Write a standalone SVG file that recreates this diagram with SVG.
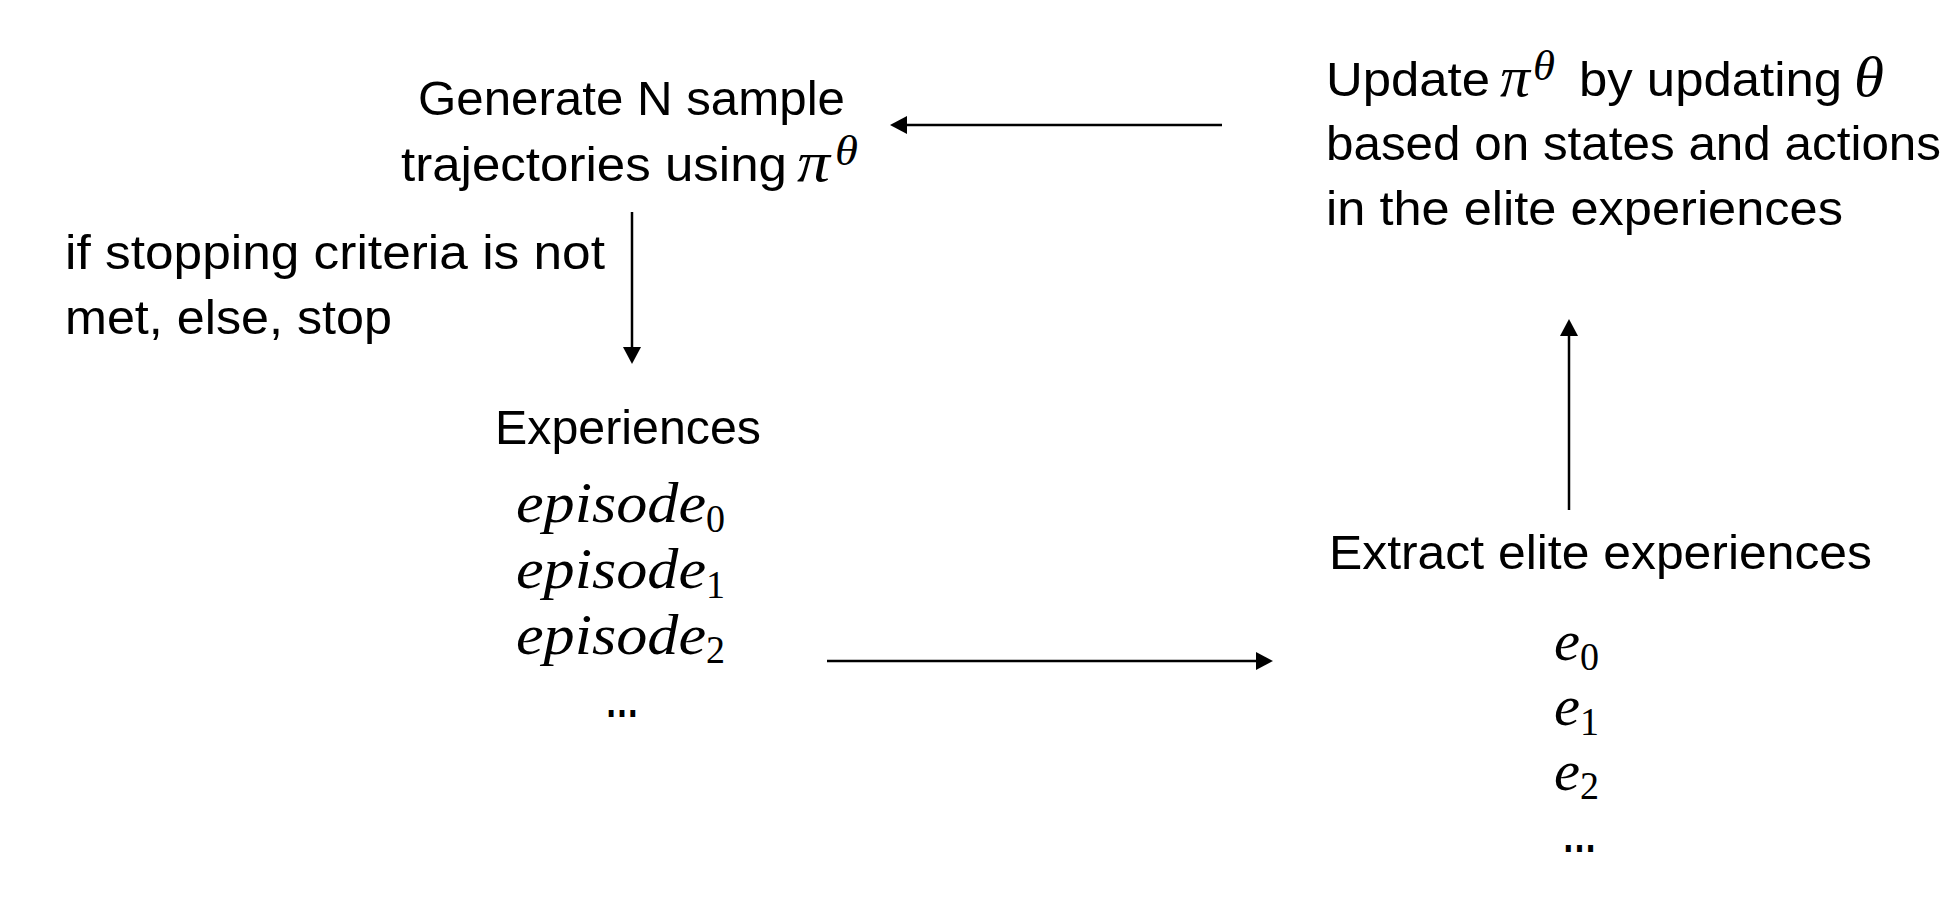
<svg xmlns="http://www.w3.org/2000/svg" width="1960" height="912" viewBox="0 0 1960 912">
<style>
.t{font-family:"Liberation Sans",Arial,sans-serif;font-size:49px;fill:#000}
.d{font-family:"Liberation Sans",Arial,sans-serif;font-size:46px;font-weight:bold;fill:#000}
.m{font-family:"Liberation Serif","DejaVu Serif",serif;font-style:italic;font-size:56px;fill:#000}
.sup{font-family:"Liberation Serif","DejaVu Serif",serif;font-style:italic;font-size:42px;fill:#000}
.sub{font-family:"Liberation Serif","DejaVu Serif",serif;font-size:40px;fill:#000}
.c{stroke:#000;stroke-width:2.5;fill:none}
</style>
<defs>
<marker id="ah" markerWidth="17" markerHeight="18" refX="11" refY="9" orient="auto" markerUnits="userSpaceOnUse" viewBox="0 0 17 18">
<path d="M0,0 L17,9 L0,18 Z" fill="#000"/>
</marker>
</defs>
<rect width="1960" height="912" fill="#fff"/>
<g id="generate">
<text class="t" x="418" y="115" textLength="427" lengthAdjust="spacingAndGlyphs">Generate N sample</text>
<text class="t" x="401" y="181" textLength="386" lengthAdjust="spacingAndGlyphs">trajectories using</text>
<text class="m" x="797" y="181" textLength="33" lengthAdjust="spacingAndGlyphs">π</text>
<text class="sup" x="835" y="165" textLength="23" lengthAdjust="spacingAndGlyphs">θ</text>
</g>
<g id="update">
<text class="t" x="1326" y="96" textLength="164" lengthAdjust="spacingAndGlyphs">Update</text>
<text class="m" x="1500" y="96" textLength="30" lengthAdjust="spacingAndGlyphs">π</text>
<text class="sup" x="1533" y="80" textLength="22" lengthAdjust="spacingAndGlyphs">θ</text>
<text class="t" x="1579" y="96" textLength="263" lengthAdjust="spacingAndGlyphs">by updating</text>
<text class="m" x="1854" y="96" textLength="30" lengthAdjust="spacingAndGlyphs">θ</text>
<text class="t" x="1326" y="160" textLength="615" lengthAdjust="spacingAndGlyphs">based on states and actions</text>
<text class="t" x="1326" y="225" textLength="517" lengthAdjust="spacingAndGlyphs">in the elite experiences</text>
</g>
<g id="stop-label">
<text class="t" x="65" y="269" textLength="540" lengthAdjust="spacingAndGlyphs">if stopping criteria is not</text>
<text class="t" x="65" y="334" textLength="327" lengthAdjust="spacingAndGlyphs">met, else, stop</text>
</g>
<g id="experiences">
<text class="t" x="495" y="444" textLength="266" lengthAdjust="spacingAndGlyphs">Experiences</text>
<text class="m" x="516" y="522" textLength="190" lengthAdjust="spacingAndGlyphs">episode</text>
<text class="sub" x="706" y="532" textLength="19" lengthAdjust="spacingAndGlyphs">0</text>
<text class="m" x="516" y="588" textLength="190" lengthAdjust="spacingAndGlyphs">episode</text>
<text class="sub" x="706" y="598" textLength="19" lengthAdjust="spacingAndGlyphs">1</text>
<text class="m" x="516" y="654" textLength="190" lengthAdjust="spacingAndGlyphs">episode</text>
<text class="sub" x="706" y="663" textLength="19" lengthAdjust="spacingAndGlyphs">2</text>
<text class="d" x="605" y="717" textLength="34" lengthAdjust="spacingAndGlyphs">…</text>
</g>
<g id="elite">
<text class="t" x="1329" y="569" textLength="543" lengthAdjust="spacingAndGlyphs">Extract elite experiences</text>
<text class="m" x="1554" y="660" textLength="26" lengthAdjust="spacingAndGlyphs">e</text>
<text class="sub" x="1580" y="670" textLength="19" lengthAdjust="spacingAndGlyphs">0</text>
<text class="m" x="1554" y="725" textLength="26" lengthAdjust="spacingAndGlyphs">e</text>
<text class="sub" x="1580" y="735" textLength="19" lengthAdjust="spacingAndGlyphs">1</text>
<text class="m" x="1554" y="790" textLength="26" lengthAdjust="spacingAndGlyphs">e</text>
<text class="sub" x="1580" y="799" textLength="19" lengthAdjust="spacingAndGlyphs">2</text>
<text class="d" x="1562" y="852" textLength="35" lengthAdjust="spacingAndGlyphs">…</text>
</g>
<g id="connectors">
<line class="c" x1="1222" y1="125" x2="896" y2="125" marker-end="url(#ah)"/>
<line class="c" x1="632" y1="212" x2="632" y2="358" marker-end="url(#ah)"/>
<line class="c" x1="827" y1="661" x2="1267" y2="661" marker-end="url(#ah)"/>
<line class="c" x1="1569" y1="510" x2="1569" y2="325" marker-end="url(#ah)"/>
</g>
</svg>
